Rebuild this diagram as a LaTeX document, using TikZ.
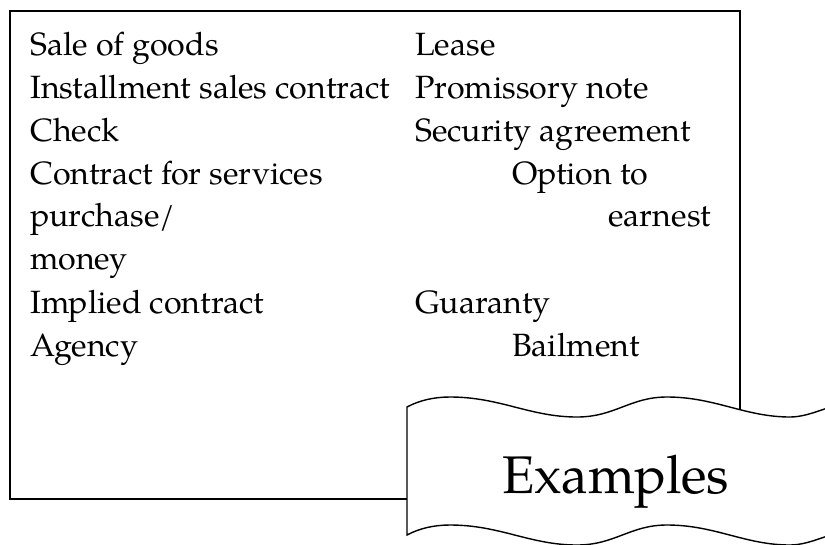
\documentclass[tikz,border=0pt]{standalone}
\usepackage{fontspec}
\setmainfont{TeX Gyre Pagella}
\tikzset{
  item/.style={anchor=base west, inner sep=0pt, font=\fontsize{32.2}{40}\selectfont},
  title/.style={anchor=base west, inner sep=0pt, font=\fontsize{53}{60}\selectfont},
  frame/.style={draw=black, line width=1.6pt},
  banner/.style={draw=black, fill=white, line width=1.4pt, line join=miter}
}
\begin{document}
\begin{tikzpicture}[x=1pt,y=-1pt]
\useasboundingbox (0,0) rectangle (825,544);
\clip (0,0) rectangle (825,544);
\fill[white] (0,0) rectangle (825,544);
\draw[frame] (10,11) rectangle (740,499);
% left column
\node[item] (a1) at (30,55) {Sale of goods};
\node[item] (a2) at (30,98) {Installment sales contract};
\node[item] (a3) at (30,141) {Check};
\node[item] (a4) at (30,184) {Contract for services};
\node[item] (a5) at (30,226) {purchase/};
\node[item] (a6) at (30,269) {money};
\node[item] (a7) at (30,313) {Implied contract};
\node[item] (a8) at (30,356) {Agency};
% right column
\node[item] (b1) at (415,55) {Lease};
\node[item] (b2) at (415,98) {Promissory note};
\node[item] (b3) at (415,141) {Security agreement};
\node[item] (b4) at (512,184) {Option to};
\node[item] (b5) at (608,226) {earnest};
\node[item] (b7) at (415,313) {Guaranty};
\node[item] (b8) at (512,356) {Bailment};
% banner
\draw[banner] (407,407) .. controls (420,400) and (435,397) .. (450,397)
  .. controls (500,397) and (530,417) .. (577,417)
  .. controls (615,417) and (630,397) .. (667,397)
  .. controls (715,397) and (745,417) .. (790,417)
  .. controls (810,417) and (830,405) .. (860,398)
  -- (860,526)
  .. controls (830,533) and (810,545) .. (790,545)
  .. controls (745,545) and (715,525) .. (667,525)
  .. controls (630,525) and (615,545) .. (577,545)
  .. controls (530,545) and (500,525) .. (450,525)
  .. controls (435,525) and (420,528) .. (407,535) -- cycle;
\node[title] (ex) at (502,493) {Examples};
\end{tikzpicture}
\end{document}
